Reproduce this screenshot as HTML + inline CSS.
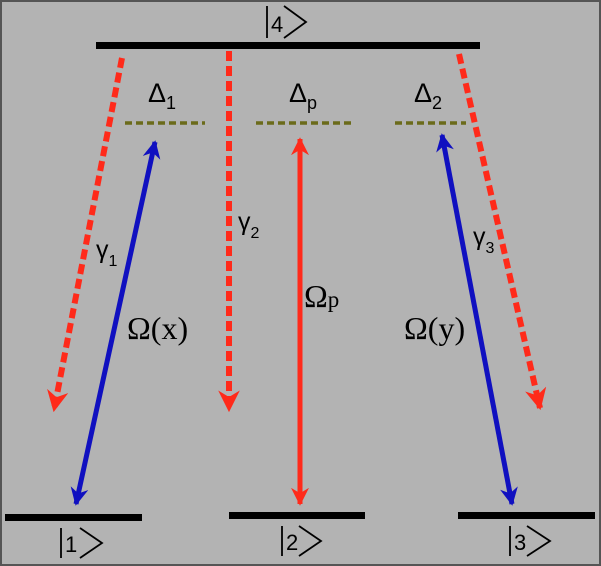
<!DOCTYPE html>
<html><head><meta charset="utf-8"><style>
html,body{margin:0;padding:0;background:#b3b3b3;}
svg{display:block;}
.s{font-family:"Liberation Sans",sans-serif;fill:#000;}
.r{font-family:"Liberation Serif",serif;fill:#000;}
</style></head><body>
<svg width="601" height="566" viewBox="0 0 601 566" xmlns="http://www.w3.org/2000/svg">
<defs>
<marker id="ar" viewBox="0 0 10 10" refX="9" refY="5" markerWidth="3.6" markerHeight="3.6" orient="auto-start-reverse" markerUnits="strokeWidth">
<path d="M0,0 L10,5 L0,10 L3,5 z" fill="#ff2a1a"/></marker>
<marker id="ab" viewBox="0 0 10 10" refX="9" refY="5" markerWidth="3.6" markerHeight="3.6" orient="auto-start-reverse" markerUnits="strokeWidth">
<path d="M0,0 L10,5 L0,10 L3,5 z" fill="#1010c0"/></marker>
</defs>
<rect x="1" y="1" width="599" height="564" fill="#b3b3b3" stroke="#555" stroke-width="2"/>
<rect x="96" y="42" width="384" height="7" fill="#000"/>
<rect x="5" y="514" width="137" height="7" fill="#000"/>
<rect x="229" y="512" width="136" height="7" fill="#000"/>
<rect x="458" y="512" width="137" height="7" fill="#000"/>
<g stroke="#000" stroke-width="1.8" fill="none">
<line x1="267" y1="6" x2="267" y2="38"/><polyline points="284,6 306,22 284,38"/>
<line x1="61" y1="528" x2="61" y2="558"/><polyline points="80,528 102,543 80,558"/>
<line x1="282" y1="526" x2="282" y2="556"/><polyline points="299,526 321,541 299,556"/>
<line x1="510" y1="526" x2="510" y2="556"/><polyline points="527,526 550,541 527,556"/>
</g>
<text x="271" y="32" class="s" font-size="22">4</text>
<text x="65" y="552" class="s" font-size="22">1</text>
<text x="286" y="550" class="s" font-size="22">2</text>
<text x="514" y="550" class="s" font-size="22">3</text>
<g stroke="#6b6b1a" stroke-width="3.5" stroke-dasharray="7,4">
<line x1="125" y1="123" x2="205" y2="123"/>
<line x1="256" y1="123" x2="351" y2="123"/>
<line x1="395" y1="123" x2="466" y2="123"/>
</g>
<text x="148" y="102" class="s" font-size="27">Δ<tspan font-size="18" dy="7">1</tspan></text>
<text x="289" y="102" class="s" font-size="27">Δ<tspan font-size="18" dy="7">p</tspan></text>
<text x="414" y="102" class="s" font-size="27">Δ<tspan font-size="18" dy="7">2</tspan></text>
<g stroke="#ff2a1a" stroke-width="6" stroke-dasharray="10,5" fill="none">
<line x1="122" y1="58" x2="54" y2="410" marker-end="url(#ar)"/>
<line x1="229" y1="51" x2="229" y2="410" marker-end="url(#ar)"/>
<line x1="459" y1="54" x2="540" y2="408" marker-end="url(#ar)"/>
</g>
<line x1="155" y1="142" x2="76" y2="504" stroke="#1010c0" stroke-width="5" marker-start="url(#ab)" marker-end="url(#ab)"/>
<line x1="300" y1="139" x2="300" y2="504" stroke="#ff2a1a" stroke-width="5" marker-start="url(#ar)" marker-end="url(#ar)"/>
<line x1="442" y1="135" x2="512" y2="504" stroke="#1010c0" stroke-width="5" marker-start="url(#ab)" marker-end="url(#ab)"/>
<text x="96" y="258" class="s" font-size="25">γ<tspan font-size="16" dy="8">1</tspan></text>
<text x="238" y="230" class="s" font-size="25">γ<tspan font-size="16" dy="8">2</tspan></text>
<text x="473" y="245" class="s" font-size="25">γ<tspan font-size="16" dy="8">3</tspan></text>
<text x="127" y="339" class="r" font-size="32">Ω(x)</text>
<text x="304" y="307" class="r" font-size="32">Ω<tspan font-size="23">p</tspan></text>
<text x="404" y="339" class="r" font-size="32">Ω(y)</text>
</svg>
</body></html>
